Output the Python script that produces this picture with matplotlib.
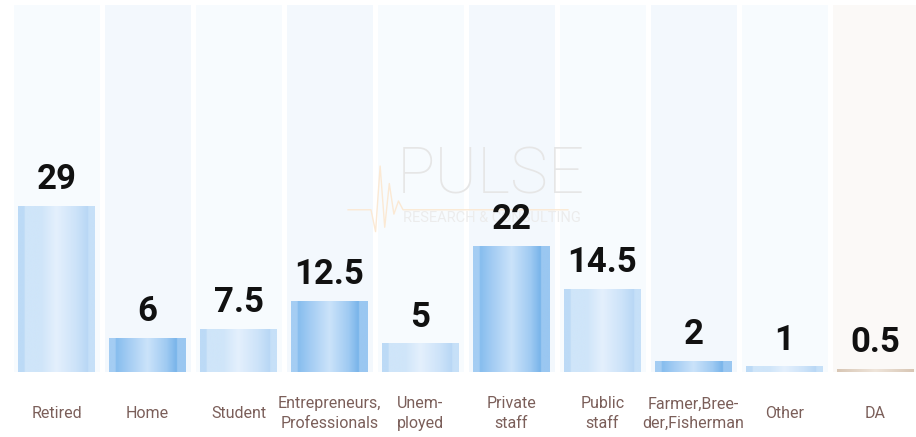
import numpy as np
import matplotlib.pyplot as plt
from matplotlib.colors import to_rgb

categories = ['Retired', 'Home', 'Student', 'Entrepreneurs,\nProfessionals', 'Unem-\nployed',
              'Private\nstaff', 'Public\nstaff', 'Farmer,Bree-\nder,Fisherman', 'Other', 'DA']
values = [29, 6, 7.5, 12.5, 5, 22, 14.5, 2, 1, 0.5]
value_labels = ['29', '6', '7.5', '12.5', '5', '22', '14.5', '2', '1', '0.5']
styles = ['light', 'dark', 'light', 'dark', 'light', 'dark', 'light', 'dark', 'light', 'beige']

# horizontal gradient stops (position across the bar, colour)
grad = {
    'light': [(0, '#bcdaf6'), (0.08, '#bcdaf6'), (0.09, '#cfe5f9'), (0.3, '#cfe5f9'),
              (0.5, '#e4f0fd'), (0.75, '#cde3f9'), (0.91, '#b8d7f5'), (0.92, '#c6e0f8'), (1, '#c6e0f8')],
    'dark': [(0, '#a4cdf3'), (0.08, '#a4cdf3'), (0.09, '#86bdee'), (0.25, '#a3ccf3'),
             (0.5, '#cbe3fa'), (0.75, '#9fcaf2'), (0.88, '#78b4ea'), (0.89, '#9ac7f1'), (1, '#9ac7f1')],
    'beige': [(0, '#d8c6b4'), (0.5, '#efe5da'), (1, '#d8c6b4')],
}


def gradient_image(stops, n=200):
    xs = np.linspace(0, 1, n)
    pos = [s[0] for s in stops]
    cols = np.array([to_rgb(s[1]) for s in stops])
    img = np.stack([np.interp(xs, pos, cols[:, k]) for k in range(3)], axis=-1)
    return img[np.newaxis, :, :]


plt.rcParams['font.family'] = ['Roboto', 'DejaVu Sans']

fig = plt.figure(figsize=(9.16, 4.37), dpi=100)
ax = fig.add_axes([0, 0, 1, 1])
ax.set_xlim(-0.621, 9.445)
ax.set_ylim(-11.36, 65.03)
ax.axis('off')

x = np.arange(len(categories))

# background columns
bg_cols = ['#f7fbfe' if i % 2 == 0 else '#f3f8fd' for i in range(len(categories))]
bg_cols[-1] = '#fbf9f7'
ax.bar(x, [64.2] * len(x), width=0.945, color=bg_cols, zorder=0)

# watermark
ax.text(0.536, 0.598, 'PULSE', transform=ax.transAxes, fontsize=46, color='#e6e6e6',
        ha='center', va='center', fontweight='light', zorder=1)
ax.text(0.537, 0.501, 'RESEARCH & CONSULTING', transform=ax.transAxes, fontsize=10.5,
        color='#ececec', ha='center', va='center', zorder=1)
wx = [0.38, 0.405, 0.41, 0.415, 0.42, 0.425, 0.43, 0.435, 0.44, 0.62]
wy = [0.52, 0.52, 0.47, 0.62, 0.48, 0.58, 0.51, 0.54, 0.52, 0.52]
ax.plot(wx, wy, transform=ax.transAxes, color='#fbe9d4', lw=1.0, zorder=1)

bars = ax.bar(x, values, width=0.846, color='none', zorder=2)
for rect, st in zip(bars, styles):
    x0, w, h = rect.get_x(), rect.get_width(), rect.get_height()
    im = ax.imshow(gradient_image(grad[st]), extent=(x0, x0 + w, 0, h),
                   aspect='auto', zorder=2, interpolation='bilinear')
    im.set_clip_path(rect)

for xi, v, lab in zip(x, values, value_labels):
    ax.annotate(lab, (xi, v), xytext=(0, 7), textcoords='offset points',
                ha='center', va='bottom', fontsize=25, fontweight='bold',
                color='#111111', zorder=3)

for xi, cat in zip(x, categories):
    ax.text(xi, -7.3, cat, ha='center', va='center', fontsize=11.5,
            color='#7b5f5a', linespacing=1.4)

plt.savefig('out.png', dpi=100)
